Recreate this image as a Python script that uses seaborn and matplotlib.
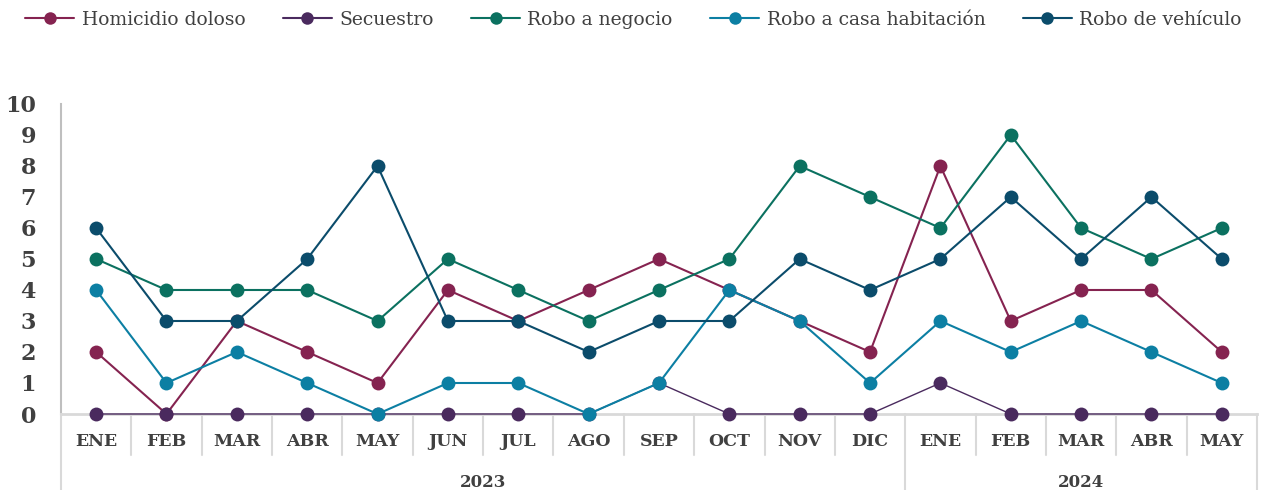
import matplotlib.pyplot as plt
import matplotlib.transforms as mtransforms
import seaborn as sns
import pandas as pd

# Datos mensuales (ene 2023 - may 2024)
meses = ['ENE', 'FEB', 'MAR', 'ABR', 'MAY', 'JUN', 'JUL', 'AGO', 'SEP', 'OCT', 'NOV', 'DIC',
         'ENE', 'FEB', 'MAR', 'ABR', 'MAY']
anios = ['2023', '2024']
meses_por_anio = [12, 5]

homicidio = [2, 0, 3, 2, 1, 4, 3, 4, 5, 4, 3, 2, 8, 3, 4, 4, 2]
secuestro = [0, 0, 0, 0, 0, 0, 0, 0, 1, 0, 0, 0, 1, 0, 0, 0, 0]
robo_negocio = [5, 4, 4, 4, 3, 5, 4, 3, 4, 5, 8, 7, 6, 9, 6, 5, 6]
robo_casa = [4, 1, 2, 1, 0, 1, 1, 0, 1, 4, 3, 1, 3, 2, 3, 2, 1]
robo_vehiculo = [6, 3, 3, 5, 8, 3, 3, 2, 3, 3, 5, 4, 5, 7, 5, 7, 5]

series = {
    'Homicidio doloso': homicidio,
    'Secuestro': secuestro,
    'Robo a negocio': robo_negocio,
    'Robo a casa habitación': robo_casa,
    'Robo de vehículo': robo_vehiculo,
}
colores = ['#852350', '#4a2a5e', '#0b7160', '#0c7fa3', '#0b4c6b']

filas = []
for nombre, valores in series.items():
    for i, v in enumerate(valores):
        filas.append({'idx': i, 'valor': v, 'serie': nombre})
df = pd.DataFrame(filas)

sns.set_style('white')
plt.rcParams['font.family'] = ['DejaVu Serif']
texto = '#404040'

fig = plt.figure(figsize=(12.67, 4.9), dpi=100)
ax = fig.add_axes([0.0481, 0.1551, 0.9440, 0.6327])

sns.lineplot(data=df, x='idx', y='valor', hue='serie', palette=colores, marker='o',
             markersize=10, markeredgewidth=0, linewidth=1.5, ax=ax, legend=True)
for ln in ax.lines:
    ln.set_clip_on(False)
    ln.set_zorder(3)
ax.lines[1].set_linewidth(1.0)

ax.set_xlim(-0.5, len(meses) - 0.5)
ax.set_ylim(0, 10)
ax.set_yticks(range(0, 11))
ax.set_xticks(range(len(meses)))
ax.set_xticklabels(meses)
ax.set_xlabel('')
ax.set_ylabel('')

for s in ['top', 'right']:
    ax.spines[s].set_visible(False)
ax.spines['left'].set_color('#bfbfbf')
ax.spines['left'].set_linewidth(1.5)
ax.spines['bottom'].set_color('#d9d9d9')
ax.spines['bottom'].set_linewidth(2)
ax.spines['bottom'].set_zorder(1)
ax.spines['left'].set_zorder(1)

ax.tick_params(axis='y', direction='in', length=6, width=1.5, color='#bfbfbf', pad=18,
               labelsize=16, labelcolor=texto)
for t in ax.get_yticklabels():
    t.set_fontweight('bold')
ax.tick_params(axis='x', length=0, pad=14, labelsize=12.5, labelcolor=texto)
for t in ax.get_xticklabels():
    t.set_fontweight('bold')

# Separadores de meses y años bajo el eje
trans = mtransforms.blended_transform_factory(ax.transData, ax.transAxes)
y_mes = -(455 - 414) / 310
y_anio = -(490 - 414) / 310
limites = [-0.5]
acum = 0
for n in meses_por_anio:
    acum += n
    limites.append(acum - 0.5)
for i in range(len(meses) - 1):
    b = i + 0.5
    if b not in limites:
        ax.plot([b, b], [0, y_mes], transform=trans, color='#d9d9d9', lw=1.5, clip_on=False)
for b in limites:
    ax.plot([b, b], [0, y_anio], transform=trans, color='#d9d9d9', lw=1.5, clip_on=False)
for k, anio in enumerate(anios):
    centro = (limites[k] + limites[k + 1]) / 2
    ax.text(centro, -(482 - 414) / 310, anio, transform=trans, ha='center', va='center',
            fontsize=12, fontweight='bold', color=texto)

handles, labels = ax.get_legend_handles_labels()
ax.legend_.remove()
leg = fig.legend(handles, labels, loc='center', bbox_to_anchor=(0.5, 1 - 20 / 490), ncol=5,
                 frameon=False, fontsize=13.5, handlelength=2.6, columnspacing=2.0,
                 handletextpad=0.4, labelcolor=texto)
for h in leg.legend_handles:
    h.set_markersize(9)

fig.savefig('out.png', dpi=100)
